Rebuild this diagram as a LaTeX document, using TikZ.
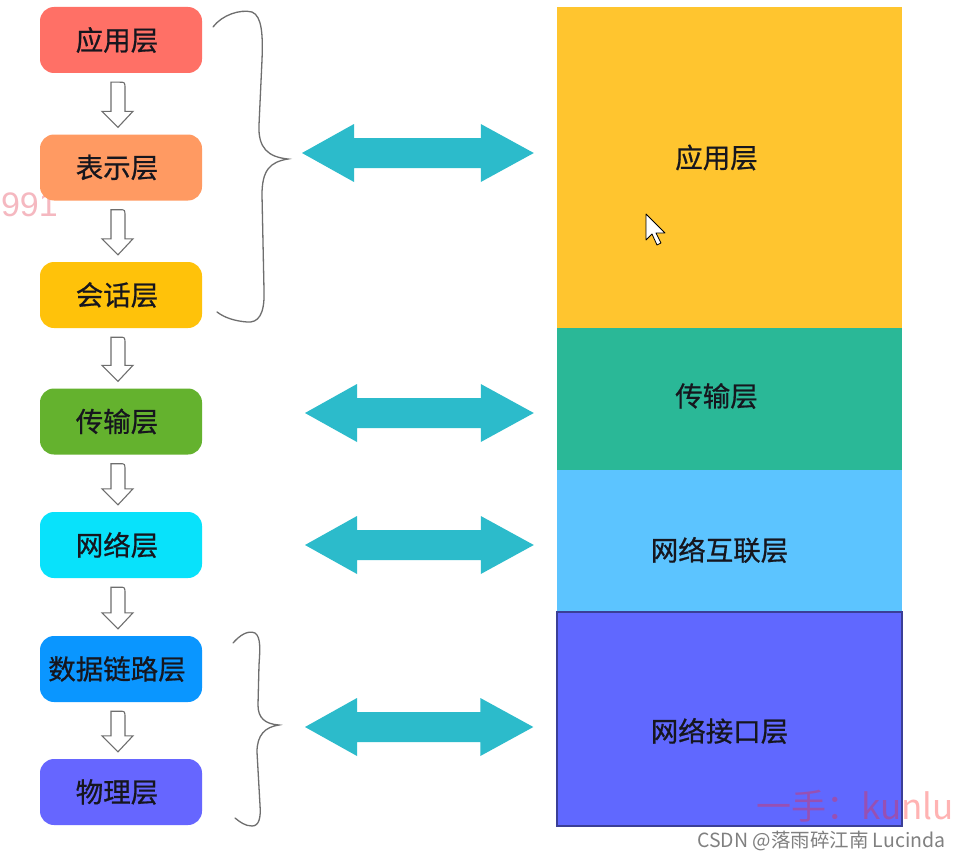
\documentclass[tikz,border=0pt]{standalone}
\usepackage{fontspec}
\setmainfont{Noto Sans CJK SC}
\newfontfamily\cjkmed[FakeBold=0.7]{Noto Sans CJK SC}
\newfontfamily\latinsans{Liberation Sans}
\usetikzlibrary{calc}
\definecolor{cA}{HTML}{FF7066}
\definecolor{cB}{HTML}{FF9A62}
\definecolor{cC}{HTML}{FFC20A}
\definecolor{cD}{HTML}{64B22E}
\definecolor{cE}{HTML}{08E2FB}
\definecolor{cF}{HTML}{0A96FF}
\definecolor{cG}{HTML}{6666FF}
\definecolor{rA}{HTML}{FFC52F}
\definecolor{rB}{HTML}{2AB897}
\definecolor{rC}{HTML}{5CC4FF}
\definecolor{rD}{HTML}{6068FF}
\definecolor{rDline}{HTML}{3B3F96}
\definecolor{teal}{HTML}{2CBBCB}
\definecolor{txt}{HTML}{16161E}
\definecolor{bracegray}{HTML}{6E6E6E}
\definecolor{wmpink}{HTML}{F2A6B0}
\tikzset{
  layerbox/.style={rounded corners=14pt, minimum width=162pt, minimum height=66pt,
    inner sep=0pt, text=txt, font=\cjkmed\fontsize{27.5}{29}\selectfont},
  stackbox/.style={minimum width=345pt, inner sep=0pt},
  stacklabel/.style={text=txt, font=\cjkmed\fontsize{27.5}{29}\selectfont},
  hollow/.style={draw=bracegray, fill=white, line width=1.1pt, line join=miter},
  bracepath/.style={draw=bracegray, line width=1.3pt, line cap=round},
}
\newcommand{\flowarrow}[2]{%
  \draw[hollow] let \p1=(#1.south), \p2=(#2.north) in
    (\x1-10pt,\y1-9pt) -- (\x1-1pt,\y1-9pt)
    .. controls (\x1+4pt,\y1-9pt) .. (\x1+4pt,\y1-16pt)
    -- (\x1+4pt,\y2+23pt) -- (\x1+12pt,\y2+23pt) -- (\x1-3pt,\y2+7pt)
    -- (\x1-19pt,\y2+23pt) -- (\x1-10pt,\y2+23pt) -- cycle;}
\newcommand{\dblarrow}[2]{%
  \fill[teal] let \p1=(#1), \p2=(#2.west) in
    (\x1,\y1) -- (\x1+52pt,\y1+29pt) -- (\x1+52pt,\y1+15pt)
    -- (\x2-76pt,\y1+15pt) -- (\x2-76pt,\y1+29pt) -- (\x2-23pt,\y1)
    -- (\x2-76pt,\y1-29pt) -- (\x2-76pt,\y1-15pt)
    -- (\x1+52pt,\y1-15pt) -- (\x1+52pt,\y1-29pt) -- cycle;}
\begin{document}
\begin{tikzpicture}[x=1pt,y=-1pt]
\useasboundingbox[fill=white] (0,0) rectangle (956,859);

% watermark left
\node[anchor=east, text=wmpink!80!white, font=\latinsans\fontsize{34}{36}\selectfont, inner sep=0pt] (wm1) at (58,205) {991};

% left layer boxes
\node[layerbox, fill=cA, text width=162pt, align=center] (L1) at (121,40) {\hspace*{-8pt}应用层};
\node[layerbox, fill=cB, text width=162pt, align=center] (L2) at (121,167.5) {\hspace*{-8pt}表示层};
\node[layerbox, fill=cC, text width=162pt, align=center] (L3) at (121,295) {\hspace*{-8pt}会话层};
\node[layerbox, fill=cD, text width=162pt, align=center] (L4) at (121,421.5) {\hspace*{-8pt}传输层};
\node[layerbox, fill=cE, text width=162pt, align=center] (L5) at (121,545) {\hspace*{-8pt}网络层};
\node[layerbox, fill=cF, text width=162pt, align=center] (L6) at (121,669) {\hspace*{-8pt}数据链路层};
\node[layerbox, fill=cG, text width=162pt, align=center] (L7) at (121,792) {\hspace*{-8pt}物理层};

\flowarrow{L1}{L2}
\flowarrow{L2}{L3}
\flowarrow{L3}{L4}
\flowarrow{L4}{L5}
\flowarrow{L5}{L6}
\flowarrow{L6}{L7}

% right stack
\node[stackbox, fill=rA, minimum height=321pt, label={[stacklabel,xshift=-13pt,yshift=10pt]center:应用层}] (RA) at (729.5,167.5) {};
\node[stackbox, fill=rB, minimum height=142pt, label={[stacklabel,xshift=-13pt,yshift=3pt]center:传输层}] (RB) at (729.5,399) {};
\node[stackbox, fill=rC, minimum height=142pt, label={[stacklabel,xshift=-10pt,yshift=-9pt]center:网络互联层}] (RC) at (729.5,541) {};
\node[stackbox, fill=rD, draw=rDline, line width=1.3pt, minimum height=214pt, label={[stacklabel,xshift=-10pt,yshift=-12pt]center:网络接口层}] (RD) at (729.5,719) {};

% cursor
\draw[fill=white, draw=black, line width=0.8pt, line join=round]
  (646,214) -- (646,240) -- (652,234) -- (657,245) -- (661,243) -- (656,233) -- (665,233) -- cycle;

% braces
\draw[bracepath] (213,27) .. controls (222,15) and (240,9) .. (252,12)
  .. controls (262,16) and (263,35) .. (262,60) -- (259,125)
  .. controls (258,148) and (268,157) .. (288,159)
  .. controls (270,162) and (262,170) .. (262,195) -- (264,290)
  .. controls (265,315) and (258,323) .. (247,322)
  .. controls (235,321) and (225,318) .. (217,312);
\draw[bracepath] (233,643) .. controls (240,635) and (248,630) .. (255,633)
  .. controls (261,637) and (260,650) .. (259,665) -- (258,705)
  .. controls (258,718) and (265,724) .. (279,725)
  .. controls (265,727) and (257,735) .. (257,752) -- (260,805)
  .. controls (261,818) and (259,826) .. (252,826)
  .. controls (245,826) and (240,822) .. (235,818);

% double arrows
\coordinate (A1) at (302,153);
\coordinate (A2) at (305,413);
\coordinate (A3) at (305,545);
\coordinate (A4) at (305,727);
\dblarrow{A1}{RA}
\dblarrow{A2}{RB}
\dblarrow{A3}{RC}
\dblarrow{A4}{RD}

% watermarks bottom
\node[anchor=east, text=red!80!pink, opacity=0.35, font=\fontsize{35}{37}\selectfont, inner sep=0pt] (wm2) at (954,806) {一手：kunlu};
\node[anchor=west, text=black!50, font=\fontsize{19.5}{21}\selectfont, inner sep=0pt] (wm3) at (697,841) {CSDN @落雨碎江南 Lucinda};
\end{tikzpicture}
\end{document}
